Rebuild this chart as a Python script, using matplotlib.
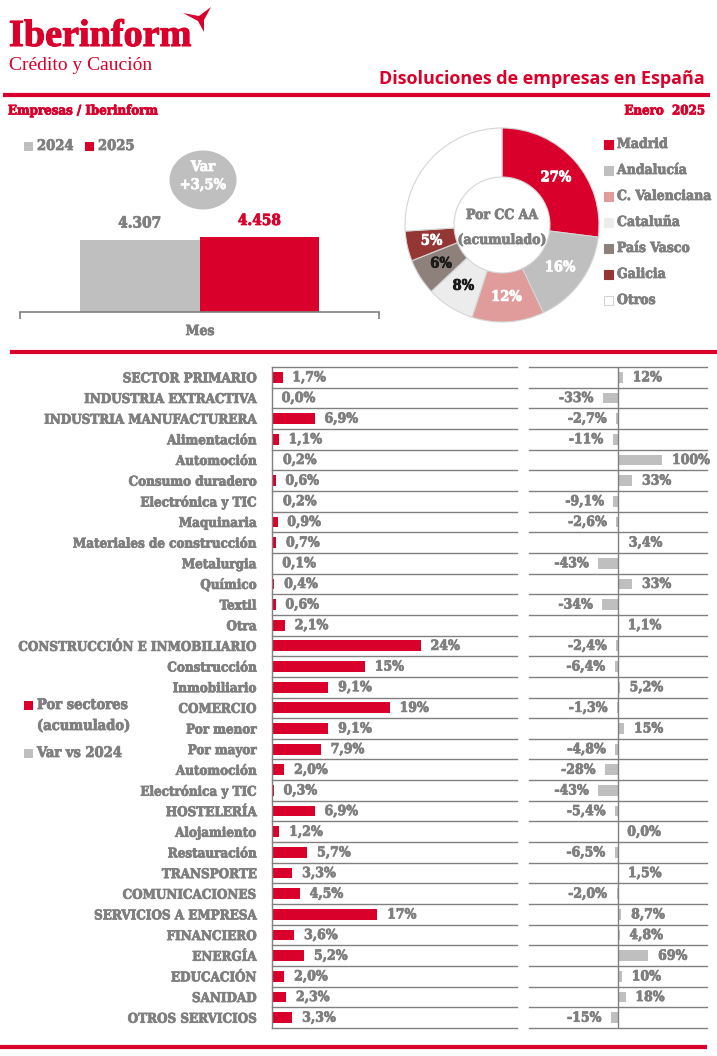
import matplotlib
matplotlib.use("Agg")
import matplotlib.pyplot as plt
from matplotlib.patches import Rectangle, Ellipse, Polygon
import matplotlib.patheffects as pe
import numpy as np

W, H = 717, 1056
RED = "#d9002b"
GRAY_BAR = "#bfbfbf"
GRAY_TXT = "#7f7f7f"
GRID = "#808080"

# ---------------- data ----------------
years = ["2024", "2025"]
monthly_totals = [4307, 4458]
var_total = "+3,5%"

regions = ["Madrid", "Andalucía", "C. Valenciana", "Cataluña", "País Vasco", "Galicia", "Otros"]
region_share = [27, 16, 12, 8, 6, 5, 26]
region_colors = [RED, "#bfbfbf", "#e09b9b", "#ececec", "#8e817c", "#943634", "#ffffff"]
region_label_colors = ["white", "white", "white", "#1a1a1a", "#1a1a1a", "white", None]

sectors = ["SECTOR PRIMARIO", "INDUSTRIA EXTRACTIVA", "INDUSTRIA MANUFACTURERA",
           "Alimentación", "Automoción", "Consumo duradero", "Electrónica y TIC",
           "Maquinaria", "Materiales de construcción", "Metalurgia", "Químico",
           "Textil", "Otra", "CONSTRUCCIÓN E INMOBILIARIO", "Construcción",
           "Inmobiliario", "COMERCIO", "Por menor", "Por mayor", "Automoción",
           "Electrónica y TIC", "HOSTELERÍA", "Alojamiento", "Restauración",
           "TRANSPORTE", "COMUNICACIONES", "SERVICIOS A EMPRESA", "FINANCIERO",
           "ENERGÍA", "EDUCACIÓN", "SANIDAD", "OTROS SERVICIOS"]
sector_share = [1.7, 0.0, 6.9, 1.1, 0.2, 0.6, 0.2, 0.9, 0.7, 0.1, 0.4, 0.6, 2.1,
                24, 15, 9.1, 19, 9.1, 7.9, 2.0, 0.3, 6.9, 1.2, 5.7, 3.3, 4.5, 17,
                3.6, 5.2, 2.0, 2.3, 3.3]
sector_var = [12, -33, -2.7, -11, 100, 33, -9.1, -2.6, 3.4, -43, 33, -34, 1.1,
              -2.4, -6.4, 5.2, -1.3, 15, -4.8, -28, -43, -5.4, 0.0, -6.5, 1.5,
              -2.0, 8.7, 4.8, 69, 10, 18, -15]


def pct(v):
    if abs(v) >= 10:
        return f"{v:.0f}%"
    return f"{v:.1f}%".replace(".", ",")


def thick(color, lw=0.55):
    return [pe.withStroke(linewidth=lw, foreground=color)]


SLAB = dict(family="DejaVu Serif", weight="bold", stretch="condensed")


def slab(color, **kw):
    d = dict(SLAB)
    d.update(color=color, path_effects=thick(color))
    d.update(kw)
    return d


fig = plt.figure(figsize=(W / 100, H / 100), dpi=100)


def px_axes(x0, y0, x1, y1, **kw):
    return fig.add_axes([x0 / W, 1 - y1 / H, (x1 - x0) / W, (y1 - y0) / H], **kw)


# overlay in pixel coordinates
ov = px_axes(0, 0, W, H)
ov.set_xlim(0, W)
ov.set_ylim(H, 0)
ov.axis("off")
ov.set_zorder(5)

# ---------------- header ----------------
ov.text(9, 46, "Iberinform", color=RED, fontsize=27.5, family="Liberation Serif",
        weight="bold", va="baseline", ha="left", path_effects=thick(RED, 0.8))
ov.add_patch(Polygon([(183, 13), (199, 16), (211, 7), (204, 20), (204, 32), (198, 21)],
                     closed=True, color=RED, lw=0))
ov.text(9, 70, "Crédito y Caución", color=RED, fontsize=14, family="Liberation Serif",
        va="baseline", ha="left")
ov.text(705, 84, "Disoluciones de empresas en España", color=RED, fontsize=13,
        family="Open Sans", weight="bold", ha="right", va="baseline")
ov.plot([3, 710], [95, 95], color=RED, lw=3, solid_capstyle="butt")
ov.text(8, 111, "Empresas / Iberinform", fontsize=9.5, va="center", ha="left", **slab(RED))
ov.text(705, 111, "Enero  2025", fontsize=9.5, va="center", ha="right", **slab(RED))

# ---------------- monthly bars ----------------
axb = px_axes(20, 130, 379, 312)
bar_colors = [GRAY_BAR, RED]
xs = [1 / 3, 2 / 3]
axb.bar(xs, monthly_totals, width=1 / 3, color=bar_colors)
axb.set_xlim(0, 1)
axb.set_ylim(0, 4307 * 182 / 72)
for s in ["top", "left", "right"]:
    axb.spines[s].set_visible(False)
axb.spines["bottom"].set_color(GRID)
axb.spines["bottom"].set_linewidth(1.2)
axb.set_yticks([])
axb.set_xticks([0, 1])
axb.set_xticklabels(["", ""])
axb.tick_params(axis="x", length=5, color=GRID, width=1.2)
axb.patch.set_alpha(0)
for x, v, c in zip(xs, monthly_totals, [GRAY_TXT, RED]):
    axb.annotate(f"{v:,}".replace(",", "."), (x, v), xytext=(0, 9), textcoords="offset points",
                 ha="center", va="baseline", fontsize=11, **slab(c))
ov.text(200, 331, "Mes", fontsize=10, ha="center", va="center", **slab(GRAY_TXT))

# legend 2024 / 2025
for x0, lab, c in [(24, years[0], GRAY_BAR), (85, years[1], RED)]:
    ov.add_patch(Rectangle((x0, 141.5), 9, 9, color=c, lw=0))
    ov.text(x0 + 13, 146, lab, fontsize=10.5, va="center", ha="left", **slab(GRAY_TXT))

# var bubble
ov.add_patch(Ellipse((203, 180), 67, 59, color=GRAY_BAR, lw=0))
ov.text(203, 167, "Var", fontsize=10.5, ha="center", va="center", **slab("white"))
ov.text(203, 185, var_total, fontsize=10.5, ha="center", va="center", **slab("white"))

# ---------------- donut ----------------
axp = px_axes(402, 125, 602, 325)
wedges, _ = axp.pie(region_share, colors=region_colors, startangle=90, counterclock=False,
                    radius=0.97, wedgeprops=dict(width=0.49, edgecolor="#d5d5d5", linewidth=0.8))
axp.set_xlim(-1, 1)
axp.set_ylim(-1, 1)
axp.set_aspect("equal")
for w, v, lc in zip(wedges, region_share, region_label_colors):
    if lc is None:
        continue
    ang = np.deg2rad((w.theta1 + w.theta2) / 2)
    axp.text(0.72 * np.cos(ang), 0.72 * np.sin(ang), f"{v}%", fontsize=10.5,
             ha="center", va="center", **slab(lc))
axp.text(0, 0.1, "Por CC AA", fontsize=10, ha="center", va="center", **slab(GRAY_TXT))
axp.text(0, -0.15, "(acumulado)", fontsize=10, ha="center", va="center", **slab(GRAY_TXT))

for i, (lab, c) in enumerate(zip(regions, region_colors)):
    yc = 144 + i * 26
    ov.add_patch(Rectangle((604, yc - 4.5), 9, 9, facecolor=c,
                           edgecolor="#d5d5d5" if c == "#ffffff" else c, lw=0.8))
    ov.text(617, yc, lab, fontsize=10, va="center", ha="left", **slab(GRAY_TXT))

# separator
ov.plot([10, 717], [351.5, 351.5], color=RED, lw=3, solid_capstyle="butt")

# ---------------- sectors ----------------
n = len(sectors)
ypos = np.arange(n)
axL = px_axes(272, 367, 517, 1028)
axL.barh(ypos, sector_share, height=0.52, color=RED)
axL.set_xlim(0, 39.5)
axL.set_ylim(n - 0.5, -0.5)
for s in ["top", "right", "bottom"]:
    axL.spines[s].set_visible(False)
axL.spines["left"].set_color(GRID)
axL.spines["left"].set_linewidth(1)
axL.set_xticks([])
axL.set_yticks(ypos)
axL.set_yticklabels(sectors, fontsize=9.6, **slab(GRAY_TXT))
axL.tick_params(axis="y", length=0, pad=11)
for b in np.arange(-0.5, n, 1):
    axL.axhline(b, color=GRID, lw=1, clip_on=False)
for i, v in enumerate(sector_share):
    axL.annotate(pct(v), (v, i), xytext=(7, 0), textcoords="offset points", ha="left",
                 va="center", fontsize=10, **slab(GRAY_TXT))

axR = px_axes(529, 367, 707, 1028)
axR.barh(ypos, sector_var, height=0.52, color=GRAY_BAR)
axR.set_xlim(-198, 200)
axR.set_ylim(n - 0.5, -0.5)
for s in axR.spines.values():
    s.set_visible(False)
axR.set_xticks([])
axR.set_yticks([])
axR.axvline(0, color=GRID, lw=1)
for b in np.arange(-0.5, n, 1):
    axR.axhline(b, color=GRID, lw=1, clip_on=False)
for i, v in enumerate(sector_var):
    if v < 0:
        axR.annotate(pct(v), (v, i), xytext=(-7, 0), textcoords="offset points", ha="right",
                     va="center", fontsize=10, **slab(GRAY_TXT))
    else:
        axR.annotate(pct(v), (v, i), xytext=(7, 0), textcoords="offset points", ha="left",
                     va="center", fontsize=10, **slab(GRAY_TXT))

# side legend
ov.add_patch(Rectangle((24, 700.5), 9, 9, color=RED, lw=0))
ov.text(37, 705, "Por sectores", fontsize=10.5, va="center", ha="left", **slab(GRAY_TXT))
ov.text(37, 726, "(acumulado)", fontsize=10.5, va="center", ha="left", **slab(GRAY_TXT))
ov.add_patch(Rectangle((24, 748.5), 9, 9, color=GRAY_BAR, lw=0))
ov.text(37, 753, "Var vs 2024", fontsize=10.5, va="center", ha="left", **slab(GRAY_TXT))

ov.plot([0, 707], [1046.5, 1046.5], color=RED, lw=3, solid_capstyle="butt")

fig.savefig("out.png", dpi=100)
